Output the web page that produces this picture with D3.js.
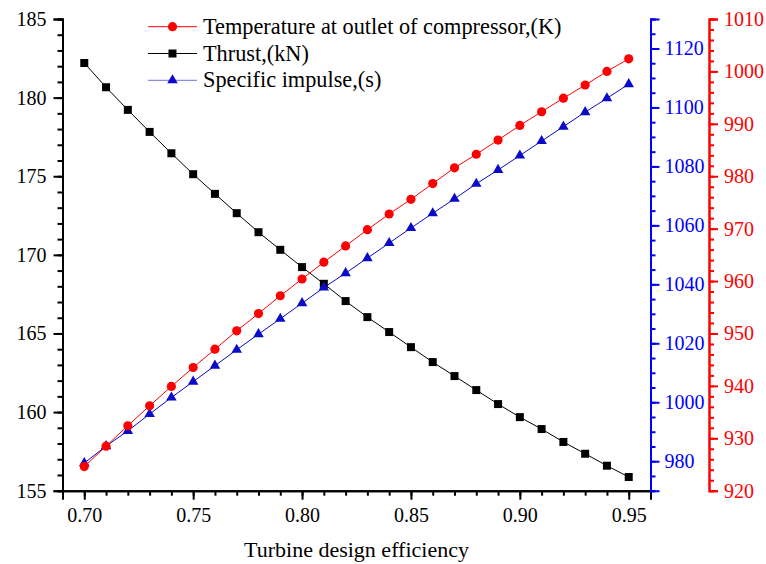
<!DOCTYPE html>
<html>
<head>
<meta charset="utf-8">
<script src="https://cdn.jsdelivr.net/npm/d3@7"></script>
<style>
  body { margin: 0; background: #fff; }
  text { font-family: "Liberation Serif", "Times New Roman", serif; }
</style>
</head>
<body>
<svg id="chart" width="766" height="564"></svg>
<script>
// Data
const efficiency = [0.70, 0.71, 0.72, 0.73, 0.74, 0.75, 0.76, 0.77, 0.78, 0.79, 0.80, 0.81, 0.82,
                    0.83, 0.84, 0.85, 0.86, 0.87, 0.88, 0.89, 0.90, 0.91, 0.92, 0.93, 0.94, 0.95];
const thrust = [182.2, 180.66, 179.22, 177.82, 176.46, 175.13, 173.88, 172.65, 171.44, 170.32, 169.22, 168.16, 167.06,
                166.04, 165.09, 164.13, 163.18, 162.29, 161.4, 160.51, 159.68, 158.92, 158.1, 157.35, 156.59, 155.87];
const temperature = [924.6, 928.5, 932.4, 936.2, 939.9, 943.5, 947.0, 950.5, 953.8, 957.2, 960.4, 963.6, 966.7,
                     969.8, 972.8, 975.6, 978.6, 981.6, 984.2, 986.9, 989.7, 992.3, 994.9, 997.4, 1000.0, 1002.4];
const impulse = [979.4, 985.1, 990.3, 996.0, 1001.6, 1007.0, 1012.4, 1017.8, 1023.1, 1028.3, 1033.6, 1038.9, 1043.8,
                 1048.9, 1054.0, 1059.1, 1064.1, 1069.0, 1074.1, 1078.8, 1083.7, 1088.6, 1093.5, 1098.4, 1103.1, 1107.9];

const xTicks = [0.70, 0.75, 0.80, 0.85, 0.90, 0.95];
const leftTicks = [155, 160, 165, 170, 175, 180, 185];
const blueTicks = [980, 1000, 1020, 1040, 1060, 1080, 1100, 1120];
const redTicks = [920, 930, 940, 950, 960, 970, 980, 990, 1000, 1010];

const legendLabels = ["Temperature at outlet of compressor,(K)", "Thrust,(kN)", "Specific impulse,(s)"];

const BLUE = "#0000ff";
const BLUE_MARK = "#0a0ac8";
const RED = "#ff0000";

let chart = d3.select("#chart");

const plotLeft = 62.5, plotRight = 650.5, plotTop = 19, plotBottom = 490.7;
const redAxisX = 709;

// Scales
const xScale = d3.scaleLinear().domain([0.69, 0.96]).range([plotLeft, plotRight]);
const yLeft = d3.scaleLinear().domain([155, 185]).range([plotBottom, plotTop]);
const yBlue = d3.scaleLinear().domain([970, 1130]).range([plotBottom, plotTop]);
const yRed = d3.scaleLinear().domain([920, 1010]).range([plotBottom, plotTop]);

function range(a, b, step) {
      let out = [];
      for (let v = a; v <= b + step / 1000; v += step) out.push(+v.toFixed(4));
      return out;
}

function styleAxis(g, color, fontSize) {
      g.attr("font-family", "Liberation Serif, Times New Roman, serif");
      g.select(".domain").attr("stroke", color).attr("stroke-width", 2);
      g.selectAll(".tick line").attr("stroke", color).attr("stroke-width", 2);
      g.selectAll(".tick text").attr("fill", color).attr("font-size", fontSize);
}

// X axis (minor then major)
const xMinor = chart.append("g").attr("transform", `translate(0,${plotBottom})`)
      .call(d3.axisBottom(xScale).tickValues(range(0.69, 0.96, 0.01)).tickSize(5).tickFormat(""));
styleAxis(xMinor, "#000", 20);
const xMajor = chart.append("g").attr("transform", `translate(0,${plotBottom})`)
      .call(d3.axisBottom(xScale).tickValues(xTicks).tickSize(9).tickPadding(8).tickFormat(d3.format(".2f")));
styleAxis(xMajor, "#000", 20);

chart.append("text")
      .text("Turbine design efficiency")
      .attr("x", (plotLeft + plotRight) / 2)
      .attr("y", 557)
      .attr("text-anchor", "middle")
      .attr("font-size", "22px");

// Left axis (thrust)
const lMinor = chart.append("g").attr("transform", `translate(${plotLeft},0)`)
      .call(d3.axisLeft(yLeft).tickValues(range(155, 185, 1)).tickSize(5).tickFormat(""));
styleAxis(lMinor, "#000", 20);
const lMajor = chart.append("g").attr("transform", `translate(${plotLeft},0)`)
      .call(d3.axisLeft(yLeft).tickValues(leftTicks).tickSize(9).tickPadding(7).tickFormat(d3.format("d")));
styleAxis(lMajor, "#000", 20);

// Blue axis (specific impulse)
const bMinor = chart.append("g").attr("transform", `translate(${plotRight},0)`)
      .call(d3.axisRight(yBlue).tickValues(range(970, 1130, 5)).tickSize(5).tickFormat(""));
styleAxis(bMinor, BLUE, 20);
const bMajor = chart.append("g").attr("transform", `translate(${plotRight},0)`)
      .call(d3.axisRight(yBlue).tickValues(blueTicks).tickSize(9).tickPadding(5).tickFormat(d3.format("d")));
styleAxis(bMajor, BLUE, 20);

// Red axis (temperature)
const rMinor = chart.append("g").attr("transform", `translate(${redAxisX},0)`)
      .call(d3.axisRight(yRed).tickValues(range(920, 1010, 2)).tickSize(5).tickFormat(""));
styleAxis(rMinor, RED, 20);
const rMajor = chart.append("g").attr("transform", `translate(${redAxisX},0)`)
      .call(d3.axisRight(yRed).tickValues(redTicks).tickSize(9).tickPadding(6).tickFormat(d3.format("d")));
styleAxis(rMajor, RED, 20);

// Series
const series = [
      { values: thrust, y: yLeft, color: "#000", fill: "#000", symbol: d3.symbolSquare, size: 64 },
      { values: impulse, y: yBlue, color: BLUE_MARK, fill: BLUE_MARK, symbol: d3.symbolTriangle, size: 48 },
      { values: temperature, y: yRed, color: RED, fill: RED, symbol: d3.symbolCircle, size: 66 }
];

series.forEach(s => {
      const line = d3.line()
            .x((d, i) => xScale(efficiency[i]))
            .y(d => s.y(d));
      chart.append("path")
            .datum(s.values)
            .attr("fill", "none")
            .attr("stroke", s.color)
            .attr("stroke-width", 1)
            .attr("d", line);
      chart.selectAll(null)
            .data(s.values).enter()
            .append("path")
            .attr("d", d3.symbol().type(s.symbol).size(s.size))
            .attr("fill", s.fill)
            .attr("transform", (d, i) => `translate(${xScale(efficiency[i])},${s.y(d)})`);
});

// Legend
const legendItems = [
      { label: legendLabels[0], color: RED, fill: RED, symbol: d3.symbolCircle, size: 66 },
      { label: legendLabels[1], color: "#000", fill: "#000", symbol: d3.symbolSquare, size: 64 },
      { label: legendLabels[2], color: "#7070e8", fill: BLUE_MARK, symbol: d3.symbolTriangle, size: 48 }
];
const legend = chart.append("g");
legendItems.forEach((item, i) => {
      const ly = 26.7 + i * 26.8;
      legend.append("line")
            .attr("x1", 148).attr("x2", 197)
            .attr("y1", ly).attr("y2", ly)
            .attr("stroke", item.color).attr("stroke-width", 1);
      legend.append("path")
            .attr("d", d3.symbol().type(item.symbol).size(item.size))
            .attr("fill", item.fill)
            .attr("transform", `translate(172.5,${ly})`);
      legend.append("text")
            .text(item.label)
            .attr("x", 203)
            .attr("y", ly + 7)
            .attr("font-size", "22.3px");
});
</script>
</body>
</html>
